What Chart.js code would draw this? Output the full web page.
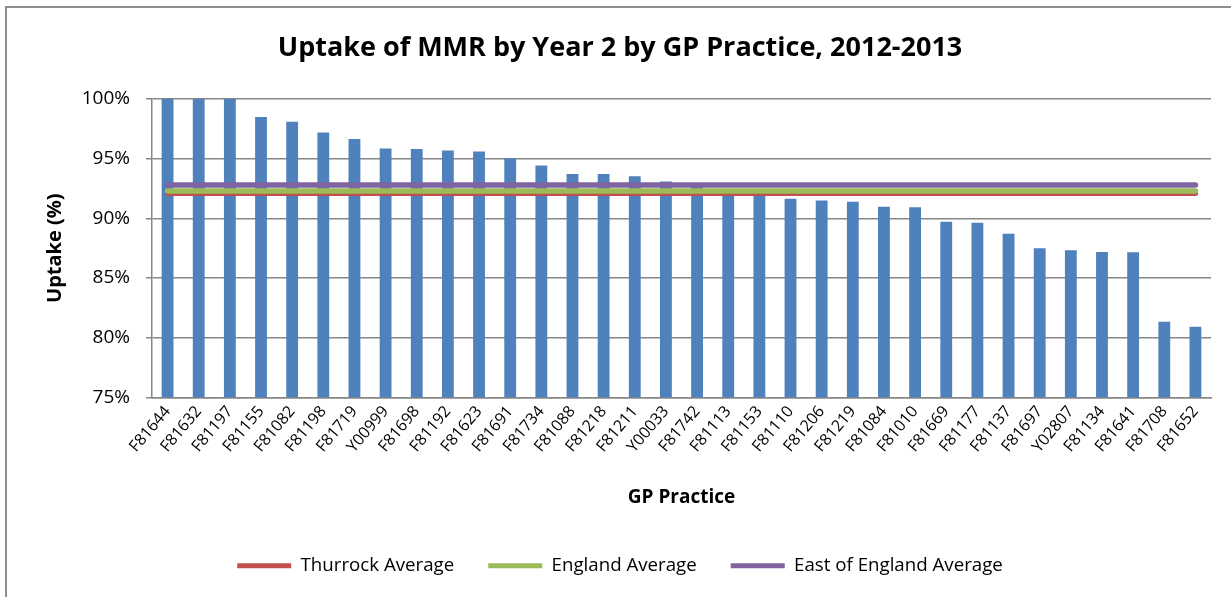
<!DOCTYPE html>
<html>
<head>
<meta charset="utf-8">
<script src="https://cdn.jsdelivr.net/npm/chart.js@4.4.0/dist/chart.umd.min.js"></script>
<style>
    html, body { margin: 0; padding: 0; background: #fff; overflow: hidden; width: 1231px; height: 597px; }
    #frame {
        position: absolute; left: 5px; top: 6px;
        width: 1240px; height: 620px;
        border-left: 2px solid #8e8e8e;
        border-top: 2px solid #8e8e8e;
    }
    #uptakeChart { position: absolute; left: 0; top: 0; }
</style>
</head>
<body>
<div id="frame">
    <canvas id="uptakeChart" width="1226" height="606"></canvas>
</div>
<script>
// GP practices, sorted by uptake
const practices = ['F81644', 'F81632', 'F81197', 'F81155', 'F81082', 'F81198', 'F81719', 'Y00999',
    'F81698', 'F81192', 'F81623', 'F81691', 'F81734', 'F81088', 'F81218', 'F81211', 'Y00033',
    'F81742', 'F81113', 'F81153', 'F81110', 'F81206', 'F81219', 'F81084', 'F81010', 'F81669',
    'F81177', 'F81137', 'F81697', 'Y02807', 'F81134', 'F81641', 'F81708', 'F81652'];

// MMR uptake by year 2 (%)
const uptake = [100, 100, 100, 98.5, 98.1, 97.2, 96.65, 95.86,
    95.8, 95.69, 95.6, 95.04, 94.42, 93.71, 93.71, 93.52, 93.09,
    92.7, 92.4, 92.2, 91.63, 91.49, 91.38, 90.98, 90.92, 89.71,
    89.63, 88.7, 87.49, 87.32, 87.18, 87.15, 81.34, 80.92];

// comparison averages (%)
const thurrockAvg = 92.1;
const englandAvg = 92.3;
const eastEnglandAvg = 92.8;

const yTicks = [75, 80, 85, 90, 95, 100];

const FONT = "'Open Sans', 'Liberation Sans', sans-serif";
const gridGrey = '#878787';

function flatLine(label, value, color, order) {
    return {
        type: 'line',
        label: label,
        data: practices.map(() => value),
        borderColor: color,
        backgroundColor: color,
        borderWidth: 5.5,
        borderCapStyle: 'round',
        pointRadius: 0,
        pointHoverRadius: 0,
        fill: false,
        order: order
    };
}

const ctx = document.getElementById('uptakeChart').getContext('2d');

new Chart(ctx, {
    type: 'bar',
    data: {
        labels: practices,
        datasets: [
            {
                label: 'Uptake',
                data: uptake,
                backgroundColor: '#4F81BD',
                borderWidth: 0,
                barPercentage: 0.38,
                categoryPercentage: 1,
                order: 4
            },
            flatLine('Thurrock Average', thurrockAvg, '#C0504D', 3),
            flatLine('England Average', englandAvg, '#9BBB59', 2),
            flatLine('East of England Average', eastEnglandAvg, '#8064A2', 1)
        ]
    },
    options: {
        responsive: false,
        animation: false,
        layout: { padding: { left: 22, right: 22, top: 0, bottom: 29 } },
        plugins: {
            title: {
                display: true,
                text: 'Uptake of MMR by Year 2 by GP Practice, 2012-2013',
                color: '#000',
                font: { family: FONT, size: 27, weight: 'bold' },
                padding: { top: 24, bottom: 34.6 }
            },
            legend: {
                position: 'bottom',
                labels: {
                    color: '#000',
                    font: { family: FONT, size: 18.7 },
                    boxWidth: 54,
                    boxHeight: 5,
                    padding: 34,
                    filter: item => item.datasetIndex > 0,
                    sort: (a, b) => a.datasetIndex - b.datasetIndex,
                    generateLabels: chart => Chart.defaults.plugins.legend.labels.generateLabels(chart)
                        .map(l => Object.assign(l, { fillStyle: l.strokeStyle, lineWidth: 0 }))
                }
            },
            tooltip: { enabled: false }
        },
        scales: {
            x: {
                grid: { display: false, drawTicks: false },
                border: { display: true, color: gridGrey, width: 1.5 },
                ticks: {
                    color: '#000',
                    font: { family: FONT, size: 16 },
                    minRotation: 50,
                    maxRotation: 50,
                    autoSkip: false,
                    padding: 5
                },
                title: {
                    display: true,
                    text: 'GP Practice',
                    color: '#000',
                    font: { family: FONT, size: 19, weight: 'bold' },
                    padding: { top: 10, bottom: 13 }
                },
                afterFit: scale => { scale.height = 125; }
            },
            y: {
                min: yTicks[0],
                max: yTicks[yTicks.length - 1],
                afterBuildTicks: scale => { scale.ticks = yTicks.map(v => ({ value: v })); },
                grid: { color: gridGrey, lineWidth: 1.5, tickLength: 6, drawTicks: true },
                border: { display: true, color: gridGrey, width: 1.5 },
                ticks: {
                    color: '#000',
                    font: { family: FONT, size: 19 },
                    padding: 16,
                    callback: v => v + '%'
                },
                title: {
                    display: true,
                    text: 'Uptake (%)',
                    color: '#000',
                    font: { family: FONT, size: 20, weight: 'bold' },
                    padding: { top: 14, bottom: 0 }
                },
                afterFit: scale => { scale.width = 123; }
            }
        }
    }
});
</script>
</body>
</html>
